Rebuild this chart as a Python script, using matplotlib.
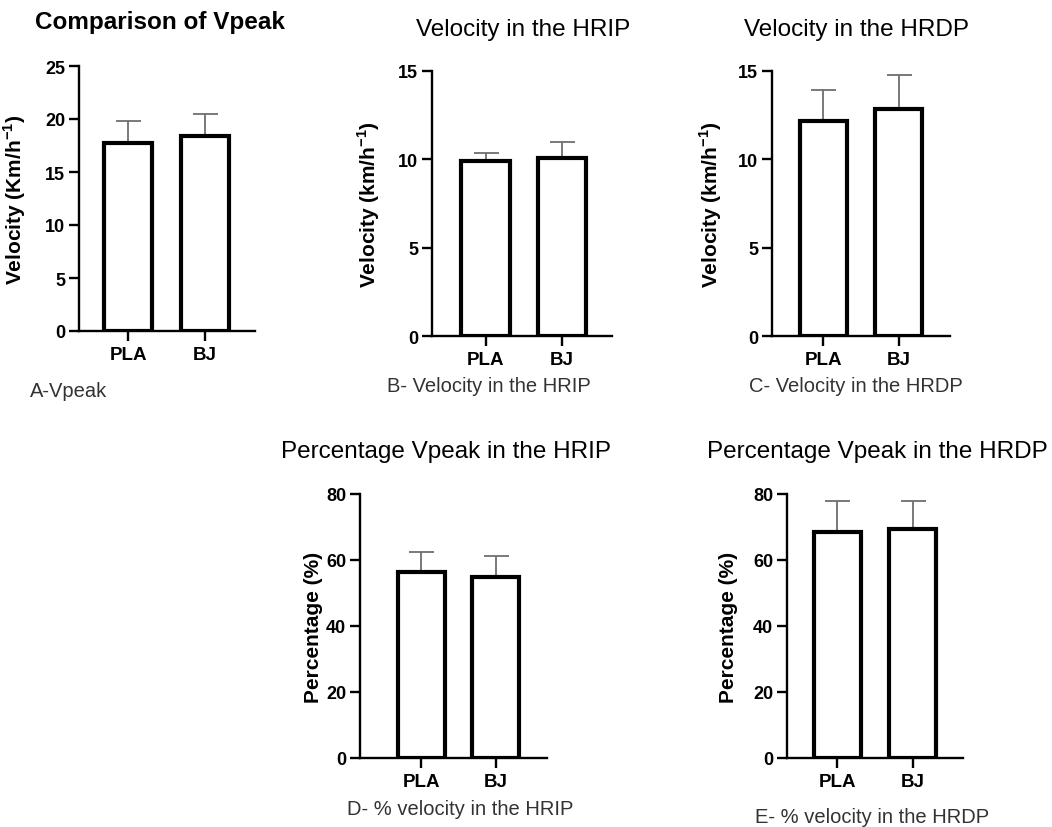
import matplotlib
matplotlib.use("Agg")
import matplotlib.pyplot as plt

plt.rcParams["font.family"] = ["Liberation Sans", "DejaVu Sans"]

W, H = 1052, 828

groups = ["PLA", "BJ"]

vpeak_mean = [17.7, 18.4]
vpeak_sd = [2.1, 2.1]

hrip_mean = [9.9, 10.1]
hrip_sd = [0.45, 0.9]

hrdp_mean = [12.15, 12.85]
hrdp_sd = [1.75, 1.95]

pct_hrip_mean = [56.5, 54.8]
pct_hrip_sd = [5.8, 6.4]

pct_hrdp_mean = [68.4, 69.4]
pct_hrdp_sd = [9.6, 8.6]


def px_rect(left, top, right, bottom):
    return [left / W, 1 - bottom / H, (right - left) / W, (bottom - top) / H]


def bar_panel(fig, rect, means, sds, ymax, step, ylabel, xl, xr, lab_dx):
    ax = fig.add_axes(rect)
    x = list(range(len(groups)))
    ax.errorbar(x, means, yerr=[[0] * len(sds), sds], fmt="none",
                ecolor="#6e6e6e", elinewidth=1.3, capsize=9, capthick=1.3, zorder=1)
    ax.bar(x, means, width=0.63, color="white", edgecolor="black", linewidth=3, zorder=2)
    ax.set_xlim(-xl, 1 + xr)
    ax.set_ylim(0, ymax)
    ax.set_yticks(range(0, ymax + 1, step))
    ax.set_xticks(x)
    ax.set_xticklabels(groups)
    for s in ["top", "right"]:
        ax.spines[s].set_visible(False)
    ax.spines["left"].set_linewidth(1.7)
    ax.spines["bottom"].set_linewidth(1.7)
    ax.tick_params(axis="both", direction="out", length=7, width=1.7, labelsize=13, pad=3)
    ax.tick_params(axis="x", labelsize=13.5, pad=4)
    for lab in ax.get_xticklabels() + ax.get_yticklabels():
        lab.set_fontweight("bold")
    ax.set_ylabel(ylabel, fontsize=15, fontweight="bold")
    ax.yaxis.set_label_coords(-lab_dx / (rect[2] * W), 0.5)
    return ax


fig = plt.figure(figsize=(W / 100, H / 100), dpi=100)

bar_panel(fig, px_rect(79, 67, 255, 332), vpeak_mean, vpeak_sd, 25, 5,
          r"Velocity (Km/h$^{\mathregular{-1}}$)", 0.64, 0.65, 51)
bar_panel(fig, px_rect(432, 72, 612, 337), hrip_mean, hrip_sd, 15, 5,
          r"Velocity (km/h$^{\mathregular{-1}}$)", 0.70, 0.65, 50)
bar_panel(fig, px_rect(772, 72, 950, 337), hrdp_mean, hrdp_sd, 15, 5,
          r"Velocity (km/h$^{\mathregular{-1}}$)", 0.68, 0.68, 48)
bar_panel(fig, px_rect(360, 495, 547, 759), pct_hrip_mean, pct_hrip_sd, 80, 20,
          "Percentage (%)", 0.82, 0.69, 37)
bar_panel(fig, px_rect(787, 495, 963, 759), pct_hrdp_mean, pct_hrdp_sd, 80, 20,
          "Percentage (%)", 0.67, 0.67, 49)


def ftext(x, y, s, **kw):
    fig.text(x / W, 1 - y / H, s, va="center", **kw)


ftext(35, 22, "Comparison of Vpeak", ha="left", fontsize=17.5, fontweight="bold")
ftext(523, 30, "Velocity in the HRIP", ha="center", fontsize=17.5)
ftext(857, 30, "Velocity in the HRDP", ha="center", fontsize=17.5)
ftext(446, 452, "Percentage Vpeak in the HRIP", ha="center", fontsize=17.5)
ftext(877, 452, "Percentage Vpeak in the HRDP", ha="center", fontsize=17.5)

cap = dict(fontsize=14.5, color="#333333")
ftext(30, 392, "A-Vpeak", ha="left", **cap)
ftext(489, 386, "B- Velocity in the HRIP", ha="center", **cap)
ftext(856, 386, "C- Velocity in the HRDP", ha="center", **cap)
ftext(460, 810, "D- % velocity in the HRIP", ha="center", **cap)
ftext(872, 818, "E- % velocity in the HRDP", ha="center", **cap)

fig.savefig("out.png", dpi=100, facecolor="white")
